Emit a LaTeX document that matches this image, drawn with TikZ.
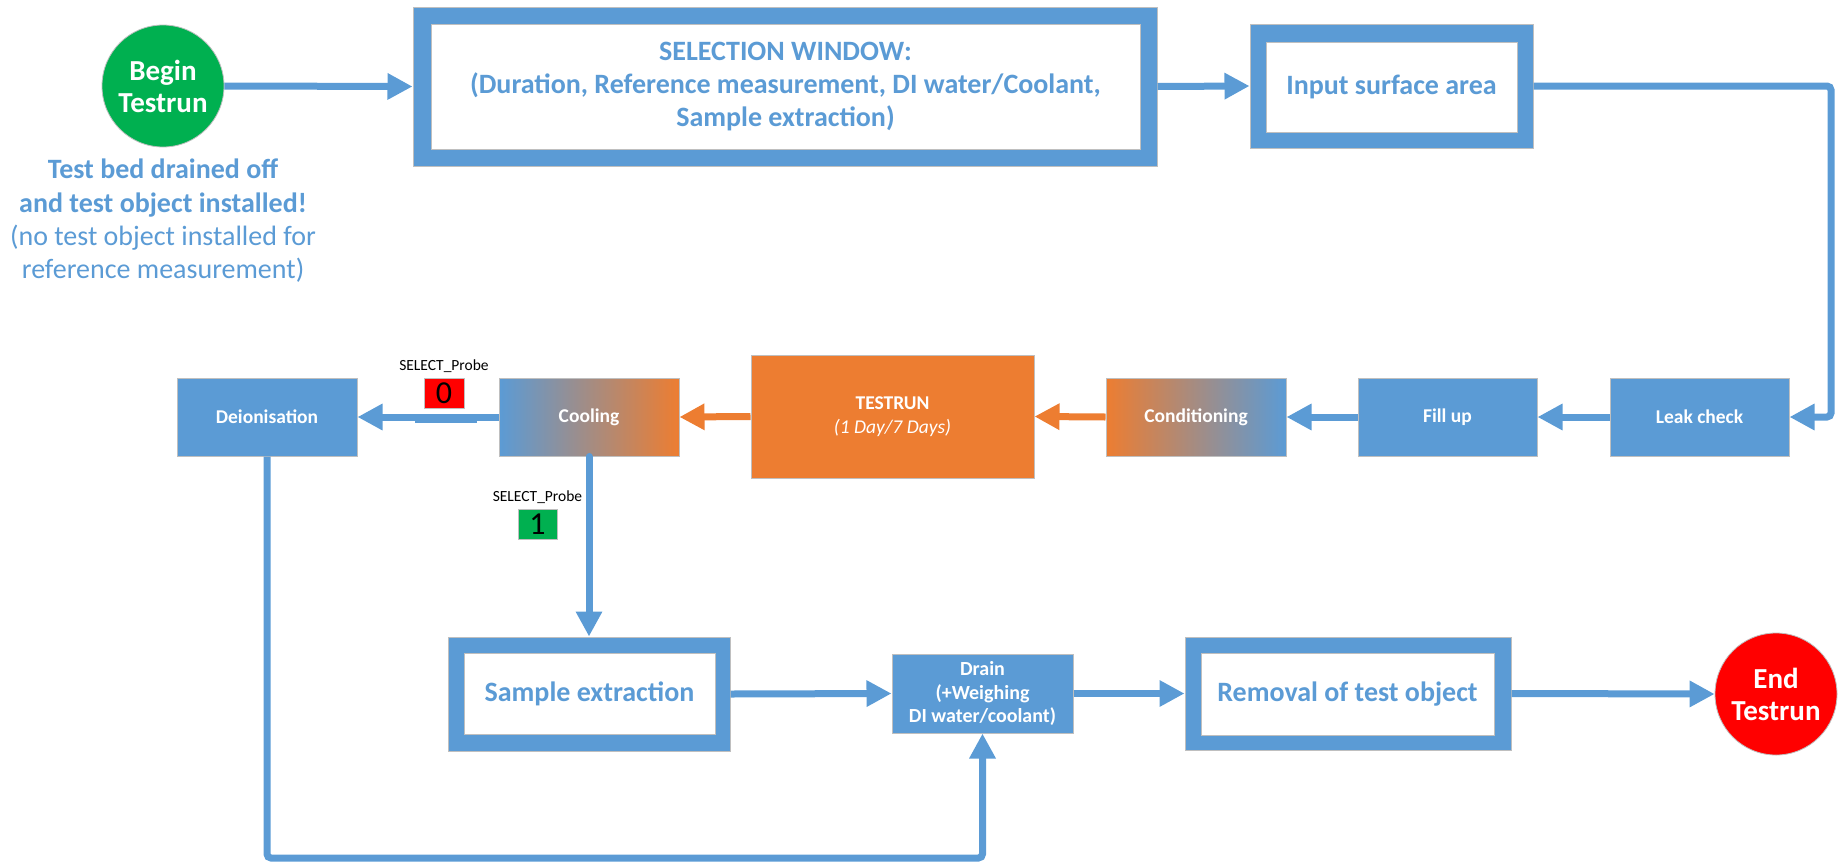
\documentclass[tikz,border=0pt]{standalone}
\usepackage{fontspec}
\setmainfont{Carlito}
\usetikzlibrary{arrows.meta}
\definecolor{mblue}{HTML}{5B9BD5}
\definecolor{morange}{HTML}{ED7D31}
\definecolor{mgreen}{HTML}{00B050}
\definecolor{mred}{HTML}{FF0000}
\definecolor{edgegray}{HTML}{BFBFBF}
\tikzset{
  proc/.style={rectangle, fill=mblue, draw=edgegray, line width=1pt, text=white,
    font=\fontsize{19.5}{23.5}\selectfont\bfseries, inner sep=0pt, align=center},
  frameout/.style={rectangle, fill=mblue, draw=edgegray, line width=1pt, inner sep=0pt},
  framein/.style={rectangle, fill=white, draw=edgegray, line width=1pt, inner sep=0pt,
    text=mblue, font=\fontsize{28}{34}\selectfont\bfseries, align=center},
  term/.style={circle, draw=edgegray, line width=0.8pt, minimum size=122pt, inner sep=0pt,
    text=white, font=\fontsize{29}{32}\selectfont\bfseries, align=center},
  conn/.style={draw=mblue, line width=7pt, -{Triangle[length=25pt,width=25pt]}},
  oconn/.style={draw=morange, line width=7pt, -{Triangle[length=25pt,width=25pt]}},
  plainconn/.style={draw=mblue, line width=7pt},
  probelabel/.style={font=\fontsize{15.5}{17}\selectfont, text=black, inner sep=0pt},
  probebox/.style={rectangle, draw=edgegray, line width=0.8pt, minimum width=40pt,
    minimum height=30pt, inner sep=0pt, font=\fontsize{32}{32}\selectfont, text=black}
}
\begin{document}
\begin{tikzpicture}[x=1pt,y=-1pt]
\useasboundingbox (0,0) rectangle (1838,865);

% top row
\node[term, fill=mgreen] (begin) at (163,86) {Begin\\Testrun};
\node[text=mblue, align=center, font=\fontsize{28}{33.3}\selectfont, inner sep=0pt] (note) at (163,221)
  {{\bfseries Test bed drained off}\\{\bfseries and test object installed!}\\(no test object installed for\\reference measurement)};

\node[frameout, minimum width=744pt, minimum height=159pt] (sel) at (785,86.5) {};
\node[framein, minimum width=709pt, minimum height=125pt, font=\fontsize{28}{33}\selectfont\bfseries] (selin) at (785.5,86.5)
  {SELECTION WINDOW:\\(Duration, Reference measurement, DI water/Coolant,\\Sample extraction)};

\node[frameout, minimum width=283pt, minimum height=124pt] (inp) at (1391.5,86) {};
\node[framein, minimum width=251pt, minimum height=90pt] (inpin) at (1391.5,87) {Input surface area};

% middle row
\node[proc, minimum width=179pt, minimum height=78pt] (leak) at (1699.5,417) {Leak check};
\node[proc, minimum width=179pt, minimum height=78pt] (fill) at (1447.5,417) {Fill up};
\node[proc, minimum width=180pt, minimum height=78pt, left color=morange, right color=mblue] (cond) at (1196,417) {Conditioning};
\node[proc, fill=morange, minimum width=283pt, minimum height=123pt] (test) at (892.5,416.5)
  {TESTRUN\\[1pt]{\mdseries\itshape (1 Day/7 Days)}};
\node[proc, minimum width=180pt, minimum height=78pt, left color=mblue, right color=morange] (cool) at (589,417) {Cooling};
\node[proc, minimum width=180pt, minimum height=78pt] (deion) at (267,417) {Deionisation};

\node[probelabel] (pl0) at (444,366) {SELECT\_Probe};
\node[probebox, fill=mred] (p0) at (444,393) {0};
\node[probelabel] (pl1) at (537.5,497) {SELECT\_Probe};
\node[probebox, fill=mgreen, minimum width=39pt] (p1) at (537.5,524) {1};

% bottom row
\node[frameout, minimum width=282pt, minimum height=114pt] (samp) at (589,694) {};
\node[framein, minimum width=251pt, minimum height=81pt] (sampin) at (589.5,693.5) {Sample extraction};
\node[proc, minimum width=181pt, minimum height=79pt, font=\fontsize{20}{23.5}\selectfont\bfseries] (drain) at (982.5,693.5) {Drain\\(+Weighing\\DI water/coolant)};
\node[frameout, minimum width=326pt, minimum height=113pt] (rem) at (1348,693.5) {};
\node[framein, minimum width=293pt, minimum height=82pt] (remin) at (1347.5,694) {Removal of test object};
\node[term, fill=mred] (end) at (1776,694) {End\\Testrun};

% connectors
\coordinate (tr) at (1831,86);
\coordinate (bl) at (267,858);
\draw[conn] (begin.east) -- (sel.west);
\draw[conn] (sel.east) -- (inp.west);
\draw[conn, rounded corners=4pt] (inp.east) -- (tr) |- (leak.east);
\draw[conn] (leak.west) -- (fill.east);
\draw[conn] (fill.west) -- (cond.east);
\draw[oconn] (cond.west) -- (test.east);
\draw[oconn] (test.west) -- (cool.east);
\draw[conn] (cool.west) -- (deion.east);
\draw[plainconn] (415,419) -- (477,419);
\draw[conn, line cap=round] (cool.south) -- (samp.north);
\draw[conn, rounded corners=4pt] (deion.south) -- (bl) -| (drain.south);
\draw[conn] (samp.east) -- (drain.west);
\draw[conn] (drain.east) -- (rem.west);
\draw[conn] (rem.east) -- (end.west);
\end{tikzpicture}
\end{document}
